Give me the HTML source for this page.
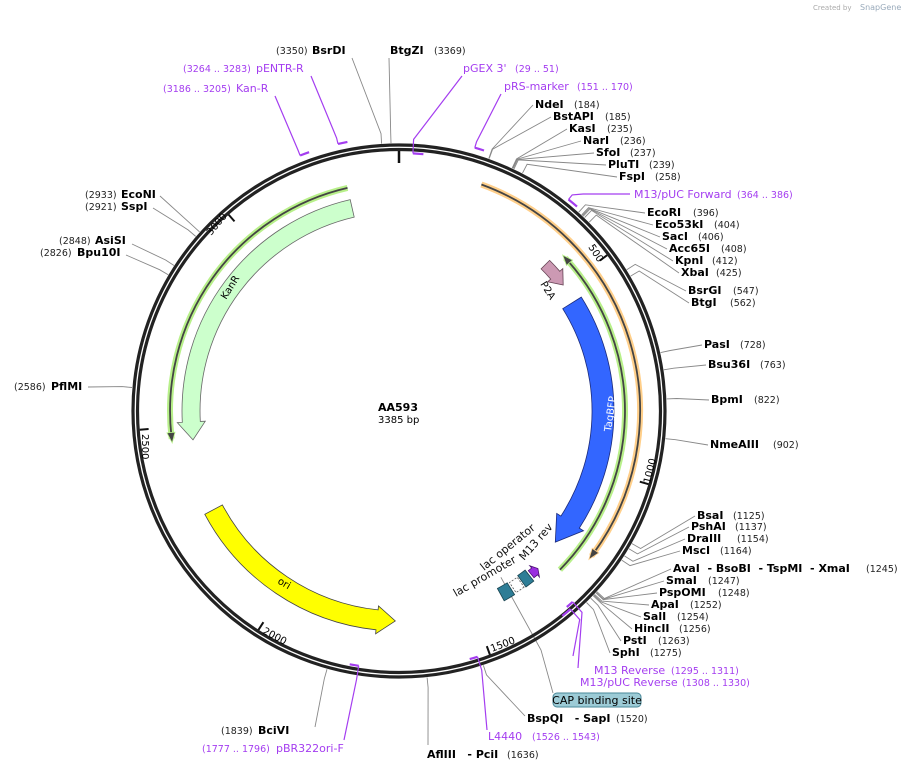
<!DOCTYPE html>
<html><head><meta charset="utf-8"><style>
body{margin:0;background:#fff;width:911px;height:771px;overflow:hidden}
svg{position:absolute;left:0;top:0}
text{font-family:"DejaVu Sans","Liberation Sans",sans-serif}
.b{font-weight:bold;font-size:11px;fill:#000}
.n{font-size:9.5px;fill:#222}
.p{font-size:11px;fill:#a43df0}
.pn{font-size:9.5px;fill:#a43df0}
.t{font-size:11px;fill:#111}
</style></head><body>
<svg id="g" width="911" height="771" viewBox="0 0 911 771">
<g id="shapes"></g>
<text x="813" y="10" style="font-size:7px;fill:#aaa">Created by</text><text x="860" y="10" style="font-size:8px;fill:#9ab">SnapGene</text>
<text class="n" x="276" y="54">(3350)</text><text class="b" x="312" y="54">BsrDI</text>
<text class="b" x="390" y="54">BtgZI</text><text class="n" x="434" y="54">(3369)</text>
<text class="pn" x="183" y="72">(3264 .. 3283)</text><text class="p" x="256" y="72">pENTR-R</text>
<text class="pn" x="163" y="92">(3186 .. 3205)</text><text class="p" x="236" y="92">Kan-R</text>
<text class="p" x="463" y="72">pGEX 3'</text><text class="pn" x="515" y="72">(29 .. 51)</text>
<text class="p" x="504" y="90">pRS-marker</text><text class="pn" x="577" y="90">(151 .. 170)</text>
<text class="b" x="535" y="108">NdeI</text><text class="n" x="574" y="108">(184)</text>
<text class="b" x="553" y="120">BstAPI</text><text class="n" x="605" y="120">(185)</text>
<text class="b" x="569" y="132">KasI</text><text class="n" x="607" y="132">(235)</text>
<text class="b" x="583" y="144">NarI</text><text class="n" x="620" y="144">(236)</text>
<text class="b" x="596" y="156">SfoI</text><text class="n" x="630" y="156">(237)</text>
<text class="b" x="608" y="168">PluTI</text><text class="n" x="649" y="168">(239)</text>
<text class="b" x="619" y="180">FspI</text><text class="n" x="655" y="180">(258)</text>
<text class="p" x="634" y="198">M13/pUC Forward</text><text class="pn" x="737" y="198">(364 .. 386)</text>
<text class="b" x="647" y="216">EcoRI</text><text class="n" x="693" y="216">(396)</text>
<text class="b" x="655" y="228">Eco53kI</text><text class="n" x="714" y="228">(404)</text>
<text class="b" x="662" y="240">SacI</text><text class="n" x="698" y="240">(406)</text>
<text class="b" x="669" y="252">Acc65I</text><text class="n" x="721" y="252">(408)</text>
<text class="b" x="675" y="264">KpnI</text><text class="n" x="712" y="264">(412)</text>
<text class="b" x="681" y="276">XbaI</text><text class="n" x="716" y="276">(425)</text>
<text class="b" x="688" y="294">BsrGI</text><text class="n" x="733" y="294">(547)</text>
<text class="b" x="691" y="306">BtgI</text><text class="n" x="730" y="306">(562)</text>
<text class="b" x="704" y="348">PasI</text><text class="n" x="740" y="348">(728)</text>
<text class="b" x="708" y="368">Bsu36I</text><text class="n" x="760" y="368">(763)</text>
<text class="b" x="711" y="403">BpmI</text><text class="n" x="754" y="403">(822)</text>
<text class="b" x="710" y="448">NmeAIII</text><text class="n" x="773" y="448">(902)</text>
<text class="b" x="697" y="519">BsaI</text><text class="n" x="733" y="519">(1125)</text>
<text class="b" x="691" y="530">PshAI</text><text class="n" x="735" y="530">(1137)</text>
<text class="b" x="687" y="542">DraIII</text><text class="n" x="737" y="542">(1154)</text>
<text class="b" x="682" y="554">MscI</text><text class="n" x="720" y="554">(1164)</text>
<text class="b" x="673" y="572" xml:space="preserve">AvaI  - BsoBI  - TspMI  - XmaI</text><text class="n" x="866" y="572">(1245)</text>
<text class="b" x="666" y="584">SmaI</text><text class="n" x="708" y="584">(1247)</text>
<text class="b" x="659" y="596">PspOMI</text><text class="n" x="718" y="596">(1248)</text>
<text class="b" x="651" y="608">ApaI</text><text class="n" x="690" y="608">(1252)</text>
<text class="b" x="643" y="620">SalI</text><text class="n" x="677" y="620">(1254)</text>
<text class="b" x="634" y="632">HincII</text><text class="n" x="679" y="632">(1256)</text>
<text class="b" x="623" y="644">PstI</text><text class="n" x="658" y="644">(1263)</text>
<text class="b" x="612" y="656">SphI</text><text class="n" x="650" y="656">(1275)</text>
<text class="p" x="594" y="674">M13 Reverse</text><text class="pn" x="671" y="674">(1295 .. 1311)</text>
<text class="p" x="580" y="686">M13/pUC Reverse</text><text class="pn" x="682" y="686">(1308 .. 1330)</text>
<rect x="553" y="693" width="88" height="14" rx="4" fill="#9ccbd6" stroke="#4a8899"/>
<text x="597" y="704" text-anchor="middle" style="font-size:11px;fill:#000">CAP binding site</text>
<text class="b" x="527" y="722" xml:space="preserve">BspQI   - SapI</text><text class="n" x="616" y="722">(1520)</text>
<text class="p" x="488" y="740">L4440</text><text class="pn" x="532" y="740">(1526 .. 1543)</text>
<text class="b" x="427" y="758" xml:space="preserve">AflIII   - PciI</text><text class="n" x="507" y="758">(1636)</text>
<text class="n" x="221" y="734">(1839)</text><text class="b" x="258" y="734">BciVI</text>
<text class="pn" x="202" y="752">(1777 .. 1796)</text><text class="p" x="276" y="752">pBR322ori-F</text>
<text class="n" x="85" y="198">(2933)</text><text class="b" x="121" y="198">EcoNI</text>
<text class="n" x="85" y="210">(2921)</text><text class="b" x="121" y="210">SspI</text>
<text class="n" x="59" y="244">(2848)</text><text class="b" x="95" y="244">AsiSI</text>
<text class="n" x="40" y="256">(2826)</text><text class="b" x="77" y="256">Bpu10I</text>
<text class="n" x="14" y="390">(2586)</text><text class="b" x="51" y="390">PflMI</text>
<text class="b" x="378" y="411">AA593</text><text x="378" y="423" style="font-size:10px">3385 bp</text>
<text transform="translate(611,432) rotate(-82)" style="font-size:10px;fill:#fff">TagBFP</text>
<text transform="translate(540,284) rotate(58)" style="font-size:10px">P2A</text>
<text transform="translate(226,300) rotate(-58)" style="font-size:10px">KanR</text>
<text transform="translate(277,583) rotate(30)" style="font-size:10px">ori</text>
<text transform="translate(484,571) rotate(-39)" class="t">lac operator</text>
<text transform="translate(456,597) rotate(-30)" class="t">lac promoter</text>
<text transform="translate(524,561) rotate(-49)" class="t">M13 rev</text>
<text transform="translate(588,247) rotate(57)" style="font-size:10px">500</text>
<text transform="translate(650,484) rotate(-76)" style="font-size:10px">1000</text>
<text transform="translate(492,652) rotate(-21)" style="font-size:10px">1500</text>
<text transform="translate(262,633) rotate(28)" style="font-size:10px">2000</text>
<text transform="translate(142,434) rotate(90)" style="font-size:10px">2500</text>
<text transform="translate(211,236) rotate(-50)" style="font-size:10px">3000</text>
</svg>
<script>
var CX=399,CY=411,N=3385;
function P(a,r){a=a*Math.PI/180;return [(CX+r*Math.sin(a)).toFixed(1),(CY-r*Math.cos(a)).toFixed(1)];}
function A(b){return b*360/N;}
function arc(r,a1,a2){var p1=P(a1,r),p2=P(a2,r);var sw=a2>a1?1:0;var la=Math.abs(a2-a1)>180?1:0;return 'M'+p1+' A'+r+' '+r+' 0 '+la+' '+sw+' '+p2;}
function arcTo(r,a1,a2){var p2=P(a2,r);var sw=a2>a1?1:0;var la=Math.abs(a2-a1)>180?1:0;return ' A'+r+' '+r+' 0 '+la+' '+sw+' '+p2;}
var s='';
function band(r,w,a1,a2,h,ext,fill,st){var d=a2>a1?1:-1;var hb=a2-d*h;var o=r+w/2,i=r-w/2;
 var path='M'+P(a1,o)+arcTo(o,a1,hb)+' L'+P(hb,o+ext)+' L'+P(a2,r)+' L'+P(hb,i-ext)+' L'+P(hb,i)+arcTo(i,hb,a1)+' Z';
 s+='<path d="'+path+'" fill="'+fill+'" stroke="'+st+'" stroke-width="0.8"/>';}
function rectb(r,w,a1,a2,fill,st,dash){var o=r+w/2,i=r-w/2;
 s+='<path d="M'+P(a1,o)+arcTo(o,a1,a2)+' L'+P(a2,i)+arcTo(i,a2,a1)+' Z" fill="'+fill+'" stroke="'+st+'" stroke-width="0.8"'+(dash?' stroke-dasharray="2,1.5"':'')+'/>';}
function glow(r,a1,a2,gc){var d=a2>a1?1:-1;
 s+='<path d="'+arc(r,a1,a2-d*1)+'" fill="none" stroke="'+gc+'" stroke-width="6"/>';
 s+='<path d="'+arc(r,a1,a2-d*2)+'" fill="none" stroke="#444" stroke-width="1.8"/>';
 var hb=a2-d*2.6;s+='<path d="M'+P(hb,r+4)+' L'+P(a2,r)+' L'+P(hb,r-4)+' Z" fill="#444" stroke="'+gc+'" stroke-width="0.8"/>';}
var E=[[3350,352,58],[3369,389,58],[184,533,105],[185,551,117],[235,567,129],[236,581,141],[237,594,153],[239,606,165],[258,617,177],
[396,645,213],[404,653,225],[406,660,237],[408,667,249],[412,673,261],[425,679,273],[547,686,291],[562,689,303],[728,702,345],[763,706,365],[822,709,400],[902,708,445],
[1125,695,516],[1137,689,527],[1154,685,539],[1164,680,551],[1245,671,569],[1247,664,581],[1248,657,593],[1252,649,605],[1254,641,617],[1256,632,629],[1263,621,641],[1275,610,653],
[1520,525,716],[1636,428,745],[1839,315,727],[2933,160,196],[2921,153,208],[2848,132,244],[2826,126,255],[2586,88,387]];
E.forEach(function(e){var a=A(e[0]);var p1=P(a,268),p2=P(a,278);s+='<polyline points="'+p1+' '+p2+' '+e[1]+','+e[2]+'" fill="none" stroke="#888" stroke-width="0.9"/>';});
s+='<polyline points="'+P(148.5,195)+' 541,650 553,693" fill="none" stroke="#888" stroke-width="0.9"/>';
s+='<circle cx="'+CX+'" cy="'+CY+'" r="266" fill="none" stroke="#222" stroke-width="3.2"/>';
s+='<circle cx="'+CX+'" cy="'+CY+'" r="261.5" fill="none" stroke="#222" stroke-width="3.2"/>';
s+='<path d="M'+P(0,260)+' L'+P(0,248)+'" stroke="#111" stroke-width="2.5"/>';
[500,1000,1500,2000,2500,3000].forEach(function(b){var a=A(b);s+='<path d="M'+P(a,260)+' L'+P(a,251)+'" stroke="#111" stroke-width="2"/>';});
var PR=[[29,51,258,462,76],[151,170,274,501,94],[364,386,271,583,194],[1295,1311,258,578,668],[1308,1330,262,573,656],[1526,1543,258,487,730],[1777,1796,258,344,740],[3186,3205,274,275,96],[3264,3283,274,311,76]];
PR.forEach(function(p){var a1=A(p[0]),a2=A(p[1]);var r=p[2];s+='<path d="'+arc(r,a1,a2)+'" fill="none" stroke="#a43df0" stroke-width="2.2"/>';
 s+='<polyline points="'+P(a1,r)+' '+P(a1,r<265?r+14:r+6)+' '+p[3]+','+p[4]+'" fill="none" stroke="#a43df0" stroke-width="1.2"/>';});
s+='<line x1="583" y1="194" x2="630" y2="194" stroke="#a43df0" stroke-width="1.2"/>';
glow(241,20,128,'#ffcf8a');
glow(226,134.6,46.4,'#b8f08a');
glow(229,347,262,'#b8f08a');
band(204,22,58,130,7,5,'#3366ff','#1b2a7a');
band(207,12,45,52.5,3.5,4,'#cc99b3','#664455');
band(208,18,347,262,5,5,'#ccffcc','#666');
band(210,20,242,181,5,4,'#ffff00','#444');
rectb(210,14,147.8,151,'#2e7d96','#1a4450');
rectb(210,12,144.6,147.2,'#fff','#555',true);
rectb(210,14,141.6,144.2,'#2e7d96','#1a4450');
band(210,9,141,138.6,1.2,3,'#9a2ee0','#4a1070');
document.getElementById('shapes').innerHTML=s;
</script>
</body></html>
